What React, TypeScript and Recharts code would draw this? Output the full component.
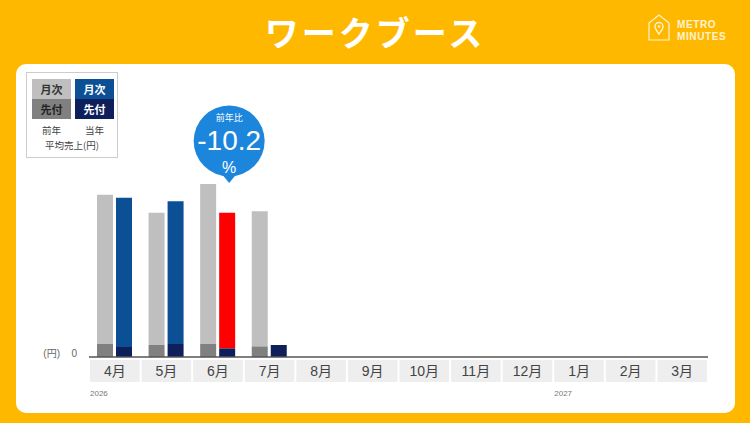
import React from 'react';
import { BarChart, Bar, XAxis, YAxis, Cell, LabelList } from 'recharts';

const months = ['4月', '5月', '6月', '7月', '8月', '9月', '10月', '11月', '12月', '1月', '2月', '3月'];
const fiscalYears = ['2026', '', '', '', '', '', '', '', '', '2027', '', ''];

// 平均売上 (千円) — 月次 is the full bar, 先付 the dark part at the bottom
const prevMonthly = [1623, 1443, 1730, 1457];
const prevAdvance = [130, 120, 130, 107];
const curMonthly = [1593, 1557, 1443, null];
const curAdvance = [100, 130, 87, 120];

const highlightIndex = 2;
const yoyPercent = -10.2;

const data = months.map((month, i) => {
  const pm = prevMonthly[i] ?? null;
  const pa = prevAdvance[i] ?? null;
  const cm = curMonthly[i] ?? null;
  const ca = curAdvance[i] ?? null;
  return {
    month,
    prevAdv: pa,
    prevRest: pm != null && pa != null ? pm - pa : null,
    curAdv: ca,
    curRest: cm != null && ca != null ? cm - ca : null,
  };
});

const FONT = "'Liberation Sans', 'Noto Sans CJK JP', sans-serif";
const JP = "'Noto Sans CJK JP', sans-serif";
const ORANGE = '#FFB800';
const PLOT_W = 619;
const STEP = PLOT_W / months.length;

function MonthTick(props: any) {
  const { x, y, payload } = props;
  const year = fiscalYears[months.indexOf(payload.value)];
  return (
    <g>
      <rect x={x - STEP / 2 + 1} y={y + 3} width={STEP - 2} height={22} fill="#EEEEEE" />
      <text x={x} y={y + 19} textAnchor="middle" fontSize={14} fill="#444" fontFamily={FONT}>
        {payload.value}
      </text>
      {year && (
        <text x={x - STEP / 2 + 1} y={y + 39} fontSize={8} fill="#777" fontFamily={FONT}>
          {year}
        </text>
      )}
    </g>
  );
}

function ZeroTick(props: any) {
  const { x, y, payload } = props;
  return (
    <g fontFamily={FONT} fontSize={10} fill="#666">
      <text x={x - 29} y={y} textAnchor="end" fill="#666">(円)</text>
      <text x={x - 12} y={y} textAnchor="end" fill="#666">{payload.value}</text>
    </g>
  );
}

function YoyBubble(props: any) {
  if (props.index !== highlightIndex) return null;
  const vb = props.viewBox ?? props;
  const w = vb.width;
  const cx = vb.x + w * 1.5 + 5;
  const tipY = vb.y - 1;
  const cy = tipY - 42;
  return (
    <g>
      <circle cx={cx} cy={cy} r={35.5} fill="#1C86DD" />
      <path d={`M${cx - 9} ${cy + 31} L${cx + 9} ${cy + 31} L${cx} ${tipY} Z`} fill="#1C86DD" />
      <text x={cx} y={cy - 20} textAnchor="middle" fontSize={9} fill="#fff" fontFamily={JP}>前年比</text>
      <text x={cx} y={cy + 9} textAnchor="middle" fontSize={28} fill="#fff" fontFamily={FONT}>
        {yoyPercent.toFixed(1)}
      </text>
      <text x={cx} y={cy + 32} textAnchor="middle" fontSize={16} fill="#fff" fontFamily={FONT}>%</text>
    </g>
  );
}

function Logo() {
  return (
    <svg width={90} height={30} style={{ position: 'absolute', left: 647, top: 13 }}>
      <path d="M2 10 L12 2 L22 10 L22 27 L2 27 Z" fill="none" stroke="#FFF3D0" strokeWidth={1.2} />
      <path d="M12 21 C9 17 8 15.5 8 13.5 A4 4 0 0 1 16 13.5 C16 15.5 15 17 12 21 Z" fill="none" stroke="#FFF3D0" strokeWidth={1.4} />
      <circle cx={12} cy={13.5} r={1.3} fill="#FFF3D0" />
      <text x={30} y={15} fontSize={10} fill="#FFF3D0" fontFamily={FONT} fontWeight="bold" letterSpacing={0.6}>METRO</text>
      <text x={30} y={27} fontSize={10} fill="#FFF3D0" fontFamily={FONT} fontWeight="bold" letterSpacing={0.6}>MINUTES</text>
    </svg>
  );
}

const tile = (bg: string, color: string, top: number, left: number, text: string) => (
  <div
    style={{
      position: 'absolute', left, top, width: 39, height: 20, background: bg, color,
      fontSize: 11, fontWeight: 'bold', fontFamily: JP, display: 'flex',
      alignItems: 'center', justifyContent: 'center',
    }}
  >
    {text}
  </div>
);

function Legend() {
  return (
    <div
      style={{
        position: 'absolute', left: 26, top: 72, width: 92, height: 86,
        border: '1px solid #CCCCCC', background: '#fff', boxSizing: 'border-box',
      }}
    >
      {tile('#BFBFBF', '#333', 6, 5, '月次')}
      {tile('#808080', '#222', 26, 5, '先付')}
      {tile('#0B4F95', '#fff', 6, 48, '月次')}
      {tile('#0F1F5C', '#fff', 26, 48, '先付')}
      <div style={{ position: 'absolute', left: 5, top: 50, width: 39, textAlign: 'center', fontSize: 9.5, color: '#444', fontFamily: JP }}>前年</div>
      <div style={{ position: 'absolute', left: 48, top: 50, width: 39, textAlign: 'center', fontSize: 9.5, color: '#444', fontFamily: JP }}>当年</div>
      <div style={{ position: 'absolute', left: 0, top: 65, width: 90, textAlign: 'center', fontSize: 9.5, color: '#444', fontFamily: JP }}>平均売上(円)</div>
    </div>
  );
}

export default function App() {
  return (
    <div style={{ position: 'absolute', left: 0, top: 0, width: 750, height: 423, background: ORANGE, overflow: 'hidden' }}>
      <div
        style={{
          position: 'absolute', left: 0, top: 8, width: 750, textAlign: 'center', color: '#fff',
          fontSize: 34, fontWeight: 'bold', fontFamily: JP, letterSpacing: 3, lineHeight: '48px',
        }}
      >
        ワークブース
      </div>
      <Logo />
      <div style={{ position: 'absolute', left: 16, top: 64, width: 719, height: 349, background: '#fff', borderRadius: 10 }} />
      <Legend />
      <div style={{ position: 'absolute', left: 37, top: 95 }}>
        <BarChart
          width={671}
          height={307}
          data={data}
          margin={{ top: 62, right: 0, bottom: 0, left: 0 }}
          barSize={16}
          barGap={3}
        >
          <YAxis
            width={52}
            domain={[0, 2000]}
            ticks={[0]}
            axisLine={false}
            tickLine={false}
            tickSize={0}
            tickMargin={0}
            tick={<ZeroTick />}
          />
          <XAxis
            dataKey="month"
            height={45}
            interval={0}
            tickLine={false}
            tickSize={0}
            tickMargin={0}
            axisLine={{ stroke: '#555', strokeWidth: 1.5 }}
            tick={<MonthTick />}
          />
          <Bar dataKey="prevAdv" stackId="prev" fill="#808080" isAnimationActive={false} />
          <Bar dataKey="prevRest" stackId="prev" fill="#BFBFBF" isAnimationActive={false}>
            <LabelList dataKey="prevRest" content={<YoyBubble />} />
          </Bar>
          <Bar dataKey="curAdv" stackId="cur" fill="#0F1F5C" isAnimationActive={false} />
          <Bar dataKey="curRest" stackId="cur" fill="#0B4F95" isAnimationActive={false}>
            {data.map((d, i) => (
              <Cell key={d.month} fill={i === highlightIndex ? '#FF0000' : '#0B4F95'} />
            ))}
          </Bar>
        </BarChart>
      </div>
    </div>
  );
}
